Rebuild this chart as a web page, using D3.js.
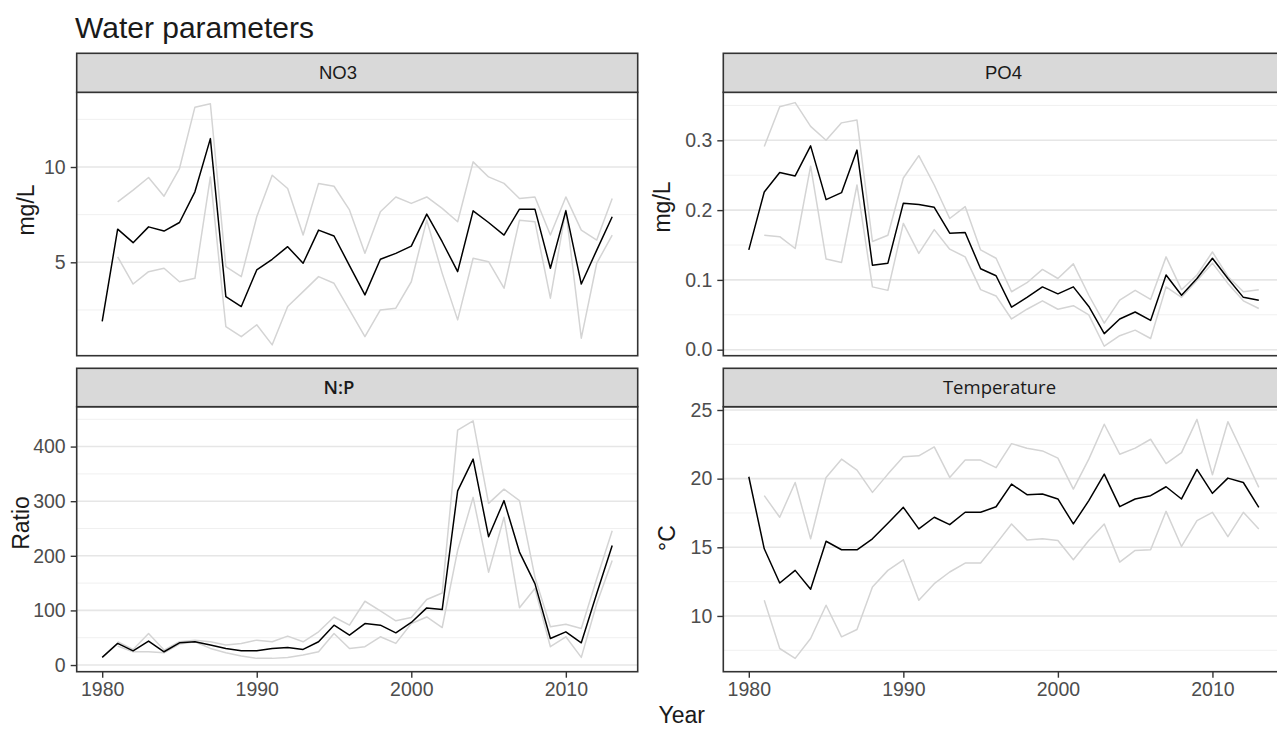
<!DOCTYPE html>
<html>
<head>
<meta charset="utf-8">
<script src="https://cdn.jsdelivr.net/npm/d3@7"></script>
<style>
  html, body { margin: 0; padding: 0; background: #fff; }
  svg { display: block; }
</style>
</head>
<body>
<svg id="chart" width="1277" height="729"></svg>
<script>
// ---------------- data ----------------
const years = [1980,1981,1982,1983,1984,1985,1986,1987,1988,1989,
               1990,1991,1992,1993,1994,1995,1996,1997,1998,1999,
               2000,2001,2002,2003,2004,2005,2006,2007,2008,2009,
               2010,2011,2012,2013];
const xTicks = [1980, 1990, 2000, 2010];

const no3Mean  = [1.9, 6.74, 6.03, 6.86, 6.64, 7.09, 8.70, 11.49, 3.2, 2.68,
                  4.6, 5.16, 5.82, 4.95, 6.69, 6.38, 4.83, 3.29, 5.16, 5.47,
                  5.85, 7.53, 6.08, 4.51, 7.70, 7.09, 6.43, 7.79, 7.79, 4.69,
                  7.70, 3.86, 5.64, 7.39];
const no3Upper = [null, 8.17, 8.79, 9.45, 8.47, 9.92, 13.14, 13.32, 4.77, 4.25,
                  7.39, 9.57, 8.87, 6.43, 9.14, 8.99, 7.75, 5.47, 7.65, 8.43,
                  8.09, 8.43, 7.83, 7.13, 10.27, 9.48, 9.14, 8.35, 8.43, 6.43,
                  8.43, 6.69, 6.17, 8.35];
const no3Lower = [null, 5.29, 3.86, 4.51, 4.69, 3.98, 4.16, 9.48, 1.63, 1.1,
                  1.72, 0.67, 2.68, 3.46, 4.25, 3.9, 2.5, 1.1, 2.5, 2.59,
                  3.98, 7.21, 4.42, 1.98, 5.21, 5.03, 3.64, 7.21, 7.13, 3.12,
                  7.74, 1.02, 4.95, 6.43];

const po4Mean  = [0.143, 0.226, 0.254, 0.249, 0.292, 0.215, 0.225, 0.286, 0.121, 0.124,
                  0.210, 0.208, 0.204, 0.167, 0.168, 0.116, 0.106, 0.061, 0.075, 0.090,
                  0.080, 0.090, 0.062, 0.023, 0.044, 0.054, 0.042, 0.107, 0.078, 0.102,
                  0.131, 0.102, 0.075, 0.071];
const po4Upper = [null, 0.291, 0.348, 0.354, 0.320, 0.300, 0.325, 0.329, 0.155, 0.164,
                  0.246, 0.278, 0.236, 0.188, 0.205, 0.143, 0.131, 0.083, 0.096, 0.115,
                  0.102, 0.123, 0.078, 0.038, 0.071, 0.085, 0.072, 0.133, 0.086, 0.107,
                  0.140, 0.105, 0.083, 0.086];
const po4Lower = [null, 0.164, 0.162, 0.145, 0.263, 0.130, 0.125, 0.236, 0.090, 0.085,
                  0.181, 0.138, 0.172, 0.144, 0.133, 0.086, 0.077, 0.044, 0.058, 0.070,
                  0.058, 0.063, 0.050, 0.005, 0.020, 0.028, 0.016, 0.090, 0.075, 0.099,
                  0.124, 0.095, 0.070, 0.059];

const npMean   = [14, 39.6, 26, 43.8, 24.3, 40.7, 42.6, 36.5, 30.4, 26,
                  26, 30.4, 32.3, 28.6, 42.6, 73, 54.7, 76, 73, 59,
                  78, 104.6, 101.6, 319, 377, 235, 301, 206.8, 149, 48.7,
                  60.8, 40.7, 130.8, 219];
const npUpper  = [null, 42.6, 28.6, 57.8, 27.4, 42.6, 45.6, 42.6, 36.5, 39.6,
                  45.6, 42.6, 53, 42.6, 60.8, 88, 73, 116.8, 99, 81,
                  87, 120, 132, 430, 447, 296, 322, 301, 161, 70,
                  74.8, 67, 158, 246];
const npLower  = [null, 34.7, 24.3, 24.3, 22.5, 38.3, 42.6, 30.4, 22.5, 16.4,
                  12.2, 12.2, 14, 18.2, 24.3, 57.8, 30.4, 33.5, 51.7, 39.6,
                  76, 88, 68.7, 210, 307, 170, 270.6, 105, 140, 33.5,
                  51.7, 14, 112.6, 191.6];

const tempMean  = [20.14, 14.89, 12.4, 13.32, 11.94, 15.44, 14.82, 14.82, 15.62, 16.75,
                   17.91, 16.34, 17.19, 16.65, 17.55, 17.55, 17.95, 19.6, 18.83, 18.88,
                   18.52, 16.7, 18.4, 20.33, 17.96, 18.52, 18.76, 19.41, 18.52, 20.67,
                   18.93, 20.04, 19.72, 17.91];
const tempUpper = [null, 18.76, 17.19, 19.72, 15.62, 20.09, 21.42, 20.62, 19.0, 20.33,
                   21.59, 21.66, 22.31, 20.09, 21.35, 21.35, 20.8, 22.55, 22.22, 22.02,
                   21.49, 19.24, 21.42, 23.96, 21.78, 22.22, 22.87, 21.1, 21.9, 24.32,
                   20.28, 24.15, 21.78, 19.36];
const tempLower = [null, 11.14, 7.63, 6.91, 8.36, 10.78, 8.48, 9.01, 12.11, 13.32,
                   14.09, 11.14, 12.35, 13.2, 13.85, 13.85, 15.25, 16.7, 15.54, 15.62,
                   15.49, 14.09, 15.49, 16.7, 13.92, 14.77, 14.82, 17.62, 15.06, 16.94,
                   17.55, 15.78, 17.55, 16.34];

const panelTitles = ["NO3", "PO4", "N:P", "Temperature"];
const yTitles     = ["mg/L", "mg/L", "Ratio", "°C"];
const no3Ticks  = [5, 10],              no3Minor  = [2.5, 7.5, 12.5];
const po4Ticks  = [0, 0.1, 0.2, 0.3],   po4Minor  = [0.05, 0.15, 0.25, 0.35];
const npTicks   = [0, 100, 200, 300, 400], npMinor = [50, 150, 250, 350, 450];
const tempTicks = [10, 15, 20, 25],     tempMinor = [7.5, 12.5, 17.5, 22.5];

// ---------------- layout ----------------
const svg = d3.select("#chart");
const FONT = "'Liberation Sans', Arial, sans-serif";
const ALT  = "'Open Sans', 'Noto Sans', sans-serif";

const colL = [76.7, 637.7], colR = [723.3, 1284.3];
const rowT = {strip: 53.3, top: 92.3, bottom: 355.7};
const rowB = {strip: 368.3, top: 406.7, bottom: 671.7};

const panels = [
  {title: panelTitles[0], ytitle: yTitles[0], col: colL, row: rowT, domain: [0.10, 13.92],
   mean: no3Mean, upper: no3Upper, lower: no3Lower, ticks: no3Ticks, minor: no3Minor, fmt: d3.format("d"),
   stripX: 338, stripFont: FONT, stripWeight: 400, ytX: 34, ytY: 210, xAxis: false},
  {title: panelTitles[1], ytitle: yTitles[1], col: colR, row: rowT, domain: [-0.0086, 0.3688],
   mean: po4Mean, upper: po4Upper, lower: po4Lower, ticks: po4Ticks, minor: po4Minor, fmt: d3.format(".1f"),
   stripX: 1003.5, stripFont: FONT, stripWeight: 400, ytX: 670, ytY: 207, xAxis: false},
  {title: panelTitles[2], ytitle: yTitles[2], col: colL, row: rowB, domain: [-12.2, 473],
   mean: npMean, upper: npUpper, lower: npLower, ticks: npTicks, minor: npMinor, fmt: d3.format("d"),
   stripX: 339, stripFont: ALT, stripWeight: 600, ytX: 28.5, ytY: 523, xAxis: true},
  {title: panelTitles[3], ytitle: yTitles[3], col: colR, row: rowB, domain: [5.94, 25.24],
   mean: tempMean, upper: tempUpper, lower: tempLower, ticks: tempTicks, minor: tempMinor, fmt: d3.format("d"),
   stripX: 999.5, stripFont: ALT, stripWeight: 400, ytX: 675, ytY: 538, xAxis: true}
];

// title
svg.append("text")
  .attr("x", 75).attr("y", 38)
  .attr("font-family", FONT).attr("font-size", 30)
  .attr("fill", "#1a1a1a")
  .text("Water parameters");

panels.forEach(p => {
  const x = d3.scaleLinear().domain([1978.35, 2014.65]).range(p.col);
  const y = d3.scaleLinear().domain(p.domain).range([p.row.bottom, p.row.top]);
  const g = svg.append("g");
  const w = p.col[1] - p.col[0];

  const clipId = "clip" + p.title.replace(/[^A-Za-z0-9]/g, "");
  svg.append("clipPath").attr("id", clipId)
    .append("rect").attr("x", p.col[0]).attr("y", p.row.top)
    .attr("width", w).attr("height", p.row.bottom - p.row.top);

  g.append("rect").attr("x", p.col[0]).attr("y", p.row.top)
    .attr("width", w).attr("height", p.row.bottom - p.row.top)
    .attr("fill", "#fff");

  g.selectAll(".minor").data(p.minor).join("line")
    .attr("x1", p.col[0]).attr("x2", p.col[1])
    .attr("y1", d => y(d)).attr("y2", d => y(d))
    .attr("stroke", "#f0f0f0").attr("stroke-width", 1)
    .attr("clip-path", `url(#${clipId})`);
  g.selectAll(".major").data(p.ticks).join("line")
    .attr("x1", p.col[0]).attr("x2", p.col[1])
    .attr("y1", d => y(d)).attr("y2", d => y(d))
    .attr("stroke", "#e6e6e6").attr("stroke-width", 1.6)
    .attr("clip-path", `url(#${clipId})`);

  const line = d3.line()
    .defined(d => d[1] !== null)
    .x(d => x(d[0])).y(d => y(d[1]));
  const mk = arr => years.map((yr, i) => [yr, arr[i]]);
  const lg = g.append("g").attr("clip-path", `url(#${clipId})`);
  [p.upper, p.lower].forEach(arr => {
    lg.append("path").datum(mk(arr))
      .attr("d", line).attr("fill", "none")
      .attr("stroke", "#d4d4d4").attr("stroke-width", 1.5)
      .attr("stroke-linejoin", "round");
  });
  lg.append("path").datum(mk(p.mean))
    .attr("d", line).attr("fill", "none")
    .attr("stroke", "#000").attr("stroke-width", 1.5)
    .attr("stroke-linejoin", "round");

  const yAxis = g.append("g").attr("transform", `translate(${p.col[0]},0)`)
    .call(d3.axisLeft(y).tickValues(p.ticks).tickFormat(p.fmt).tickSize(6).tickPadding(5));
  yAxis.select(".domain").remove();
  yAxis.selectAll(".tick line").attr("stroke", "#333").attr("stroke-width", 1.4);
  yAxis.selectAll(".tick text")
    .attr("font-family", FONT).attr("font-size", 19.5).attr("fill", "#4d4d4d");

  if (p.xAxis) {
    const xAxis = g.append("g").attr("transform", `translate(0,${p.row.bottom})`)
      .call(d3.axisBottom(x).tickValues(xTicks).tickFormat(d3.format("d")).tickSize(6).tickPadding(4));
    xAxis.select(".domain").remove();
    xAxis.selectAll(".tick line").attr("stroke", "#333").attr("stroke-width", 1.4);
    xAxis.selectAll(".tick text")
      .attr("font-family", FONT).attr("font-size", 19.5).attr("fill", "#4d4d4d");
  }

  g.append("rect").attr("x", p.col[0]).attr("y", p.row.top)
    .attr("width", w).attr("height", p.row.bottom - p.row.top)
    .attr("fill", "none").attr("stroke", "#333").attr("stroke-width", 1.6);

  g.append("rect").attr("x", p.col[0]).attr("y", p.row.strip)
    .attr("width", w).attr("height", p.row.top - p.row.strip)
    .attr("fill", "#d9d9d9").attr("stroke", "#333").attr("stroke-width", 1.6);
  g.append("text")
    .attr("x", p.stripX).attr("y", (p.row.strip + p.row.top) / 2)
    .attr("dy", "0.36em")
    .attr("text-anchor", "middle")
    .attr("font-family", p.stripFont).attr("font-weight", p.stripWeight)
    .attr("font-size", 18.5).attr("fill", "#1a1a1a")
    .text(p.title);

  g.append("text")
    .attr("transform", `translate(${p.ytX},${p.ytY}) rotate(-90)`)
    .attr("text-anchor", "middle")
    .attr("font-family", FONT).attr("font-size", 23)
    .attr("fill", "#1a1a1a")
    .text(p.ytitle);
});

svg.append("text")
  .attr("x", 681.7).attr("y", 723)
  .attr("text-anchor", "middle")
  .attr("font-family", FONT).attr("font-size", 23)
  .attr("fill", "#1a1a1a")
  .text("Year");
</script>
</body>
</html>
